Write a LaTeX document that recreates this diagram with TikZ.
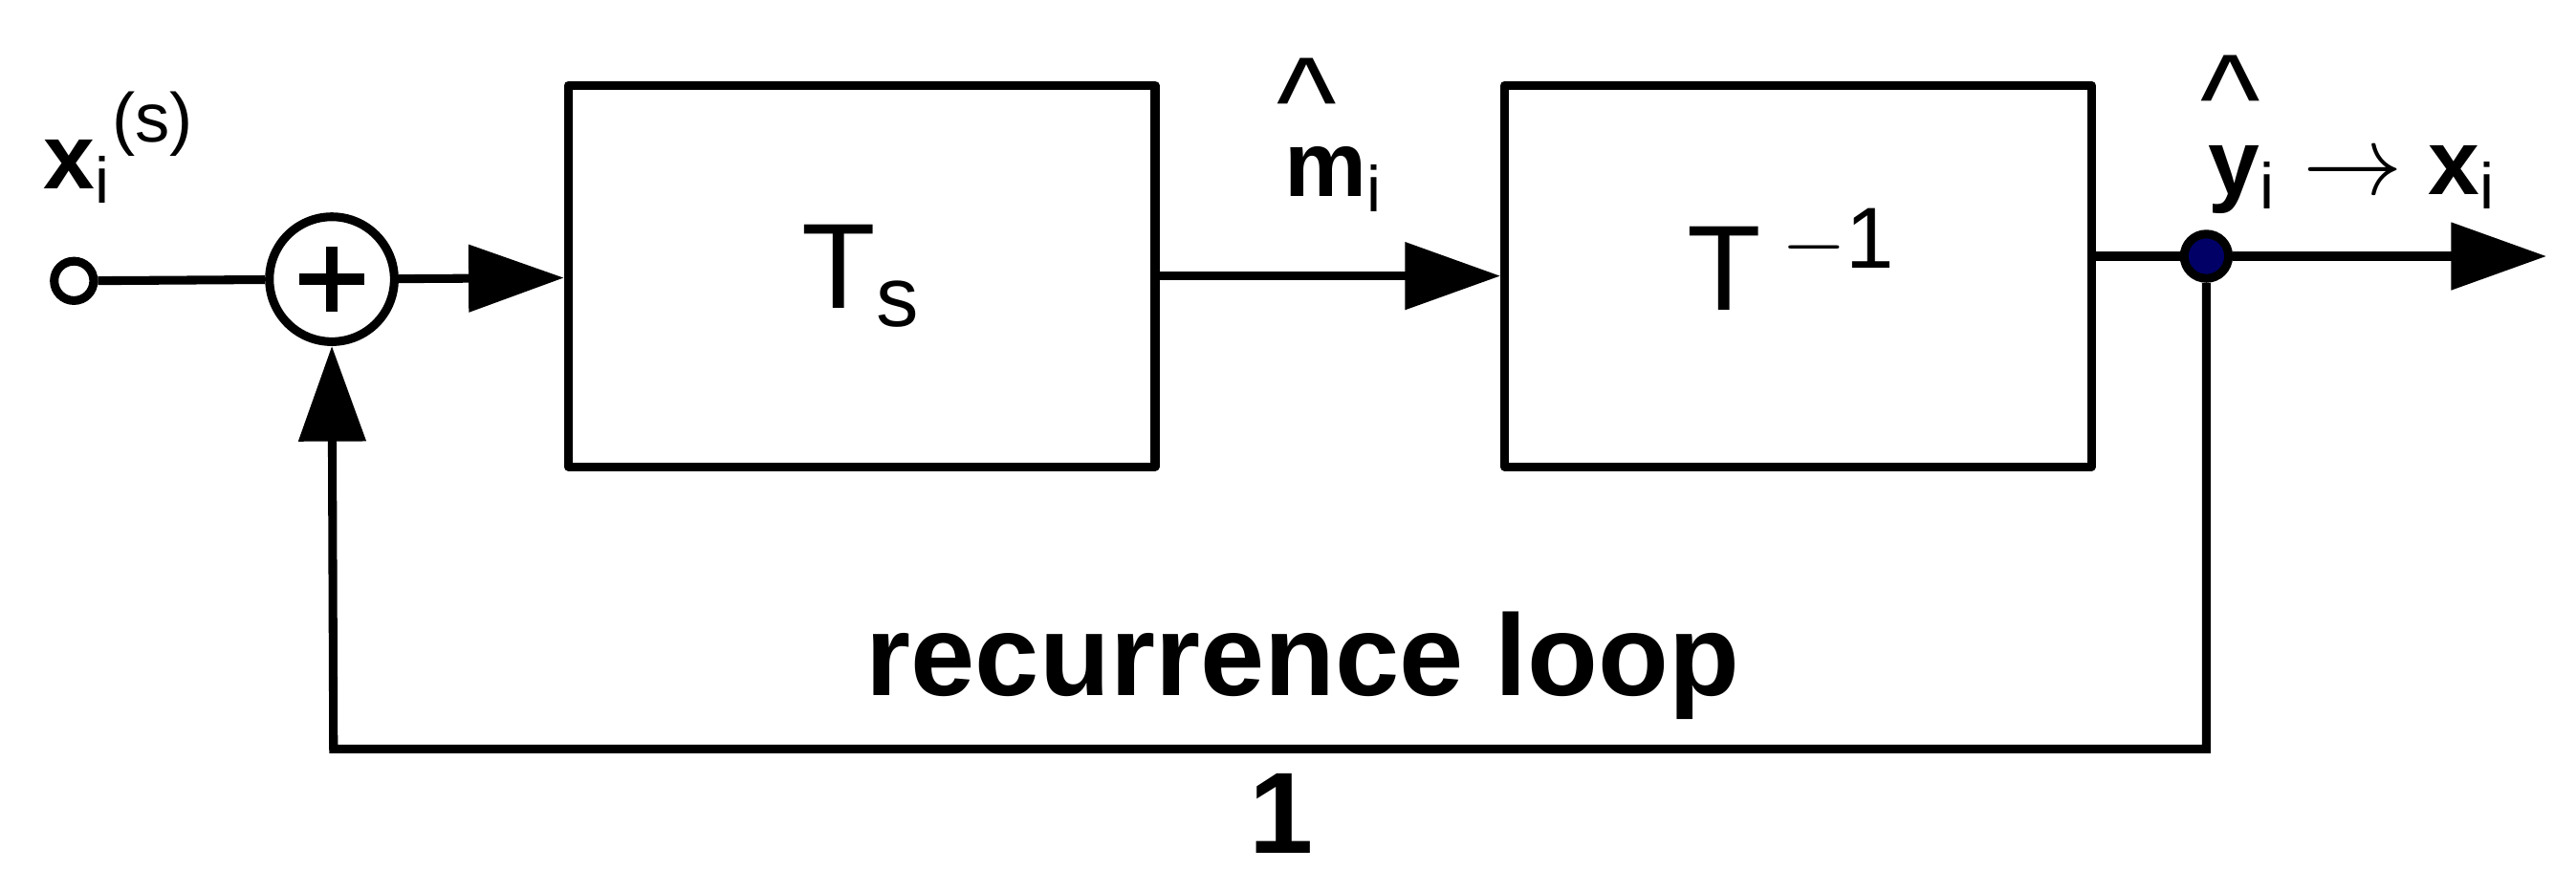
\documentclass[tikz,border=0pt]{standalone}
\usepackage{fontspec}
\setmainfont{Liberation Sans}
\usetikzlibrary{arrows.meta,positioning}
\newcommand{\bighat}[1]{\makebox[0pt][l]{\hspace{-0.08em}\raisebox{0.55em}{\mdseries\fontsize{22}{24}\selectfont\textasciicircum}}#1}
\begin{document}
\begin{tikzpicture}
  [x=0.01cm,y=-0.01cm,line width=1.5pt,>={Triangle[length=0.58cm,width=0.4cm]},
  block/.style={draw,rectangle,minimum width=3.57cm,minimum height=2.32cm,line join=round},
  sum/.style={draw,circle,minimum size=0.76cm,inner sep=0pt},
  label text/.style={font=\fontsize{16}{18}\selectfont\bfseries}]
  \useasboundingbox (0,0) rectangle (1568,543);
  \node[circle,draw,minimum size=0.24cm,inner sep=0pt] (input) at (45,171) {};
  \node[sum] (adder) at (202,170) {};
  \draw[line width=2pt] (182,170) -- (222,170) (202,150) -- (202,190);
  \node[block] (ts) at (524.5,168) {};
  \node[block] (tinv) at (1094.5,168) {};
  \node[circle,draw,fill=blue!40!black,minimum size=0.27cm,inner sep=0pt] (tap) at (1343,156) {};
  \coordinate (out) at (1550,156);
  \coordinate (loopr) at (1343,456);
  \coordinate (loopl) at (203,456);
  % signal path
  \draw (input) -- (adder);
  \draw[->] (adder) -- (ts);
  \draw[->] (ts.east) -- (tinv.west);
  \draw (tinv.east |- tap) -- (tap);
  \draw[->] (tap) -- (out);
  \draw[->] (tap) -- (loopr) -- (loopl) -- (adder.south);
  % labels
  \node[font=\fontsize{21}{24}\selectfont] (tslabel) at (ts.center) {T\textsubscript{s}};
  \node[font=\fontsize{21}{24}\selectfont] (tinvlabel) at (1090,158) {T\,\raisebox{0.35em}{\fontsize{15}{17}\selectfont$-$1}};
  \node[label text] (xin) at (72,90) {x\textsubscript{\mdseries i}\raisebox{0.5em}{\mdseries\fontsize{12}{14}\selectfont(s)}};
  \node[label text] (mhat) at (812,82) {\bighat{m}\textsubscript{\mdseries i}};
  \node[label text] (yhat) at (1432,82) {\bighat{y}\textsubscript{\mdseries i} $\rightarrow$ x\textsubscript{\mdseries i}};
  \node[label text,font=\fontsize{20}{22}\selectfont\bfseries] (looplabel) at (793,405) {recurrence loop};
  \node[label text,font=\fontsize{20}{22}\selectfont\bfseries] (gain) at (780,495) {1};
\end{tikzpicture}
\end{document}
